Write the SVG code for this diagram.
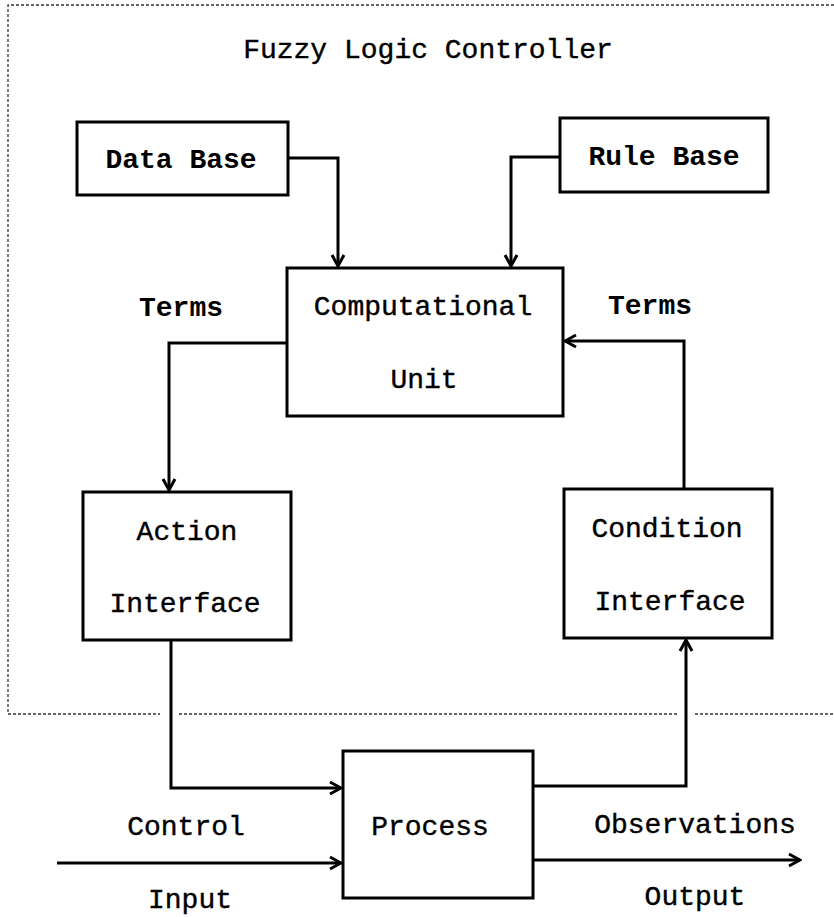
<svg xmlns="http://www.w3.org/2000/svg" width="834" height="917" viewBox="0 0 834 917">
  <style>
    .box { fill: #fff; stroke: #000; stroke-width: 3; }
    .wire { fill: none; stroke: #000; stroke-width: 3; stroke-linejoin: miter; }
    .frame { fill: none; stroke: #333; stroke-width: 1.3; stroke-dasharray: 3 2; }
    text { font-family: "Liberation Mono", "DejaVu Sans Mono", monospace; font-size: 28px; fill: #000; text-anchor: middle; }
    .plain { stroke: #000; stroke-width: 0.4; }
    .heavy { font-weight: bold; }
  </style>
  <defs>
    <marker id="arrow" markerUnits="userSpaceOnUse" markerWidth="16" markerHeight="16" viewBox="0 0 16 16" refX="14" refY="8" orient="auto">
      <path d="M3,2 L14,8 L3,14" fill="none" stroke="#000" stroke-width="3"/>
    </marker>
  </defs>

  <rect width="834" height="917" fill="#fff"/>

  <!-- controller boundary (dashed, open on the right) -->
  <g id="controller-frame">
    <path class="frame" d="M834,5 H8 V714 H160"/>
    <path class="frame" d="M179,714 H678"/>
    <path class="frame" d="M695,714 H834"/>
    <text class="plain" x="428" y="58">Fuzzy Logic Controller</text>
  </g>

  <g id="data-base">
    <rect class="box" x="77" y="122" width="211" height="73"/>
    <text class="heavy" x="181" y="168">Data Base</text>
  </g>

  <g id="rule-base">
    <rect class="box" x="560" y="118" width="208" height="74"/>
    <text class="heavy" x="664" y="165">Rule Base</text>
  </g>

  <g id="computational-unit">
    <rect class="box" x="287" y="268" width="276" height="148"/>
    <text class="plain" x="423" y="315">Computational</text>
    <text class="plain" x="424" y="388">Unit</text>
  </g>

  <g id="action-interface">
    <rect class="box" x="83" y="492" width="208" height="148"/>
    <text class="plain" x="187" y="540">Action</text>
    <text class="plain" x="185" y="612">Interface</text>
  </g>

  <g id="condition-interface">
    <rect class="box" x="564" y="489" width="208" height="149"/>
    <text class="plain" x="667" y="537">Condition</text>
    <text class="plain" x="670" y="610">Interface</text>
  </g>

  <g id="process">
    <rect class="box" x="343" y="751" width="190" height="147"/>
    <text class="plain" x="430" y="835">Process</text>
  </g>

  <g id="connectors">
    <path class="wire" d="M288,158 H338 V266" marker-end="url(#arrow)"/>
    <path class="wire" d="M560,157 H511 V266" marker-end="url(#arrow)"/>
    <path class="wire" d="M287,343 H169 V490" marker-end="url(#arrow)"/>
    <path class="wire" d="M684,489 V341 H565" marker-end="url(#arrow)"/>
    <path class="wire" d="M171,640 V788 H341" marker-end="url(#arrow)"/>
    <path class="wire" d="M533,786 H686 V640" marker-end="url(#arrow)"/>
    <path class="wire" d="M57,863 H341" marker-end="url(#arrow)"/>
    <path class="wire" d="M533,860 H800" marker-end="url(#arrow)"/>
  </g>

  <g id="labels">
    <text class="heavy" x="181" y="316">Terms</text>
    <text class="heavy" x="650" y="314">Terms</text>
    <text class="plain" x="186" y="835">Control</text>
    <text class="plain" x="190" y="908">Input</text>
    <text class="plain" x="695" y="833">Observations</text>
    <text class="plain" x="695" y="905">Output</text>
  </g>
</svg>
